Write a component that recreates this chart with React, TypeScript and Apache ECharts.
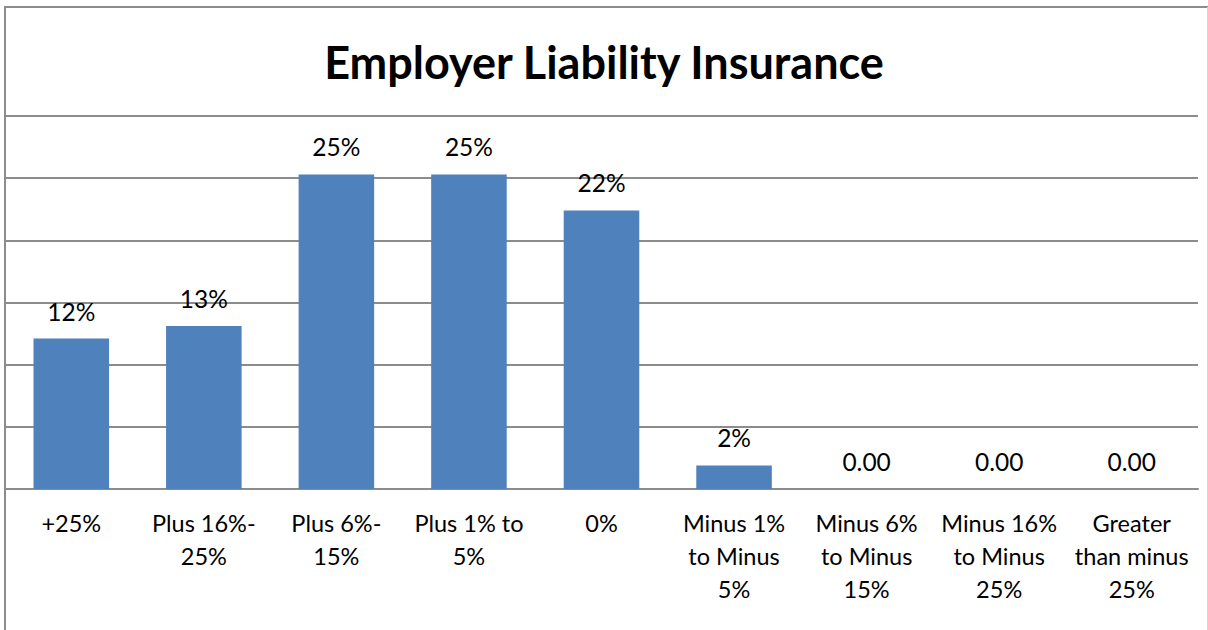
import React, { useEffect, useRef } from "react";
import * as echarts from "echarts";

const titleText = "Employer Liability Insurance";
const categories = [
  "+25%",
  "Plus 16%-\n25%",
  "Plus 6%-\n15%",
  "Plus 1% to\n5%",
  "0%",
  "Minus 1%\nto Minus\n5%",
  "Minus 6%\nto Minus\n15%",
  "Minus 16%\nto Minus\n25%",
  "Greater\nthan minus\n25%",
];
const values = [12.1, 13.1, 25.3, 25.3, 22.4, 1.9, 0, 0, 0];
const yMin = 0;
const yMax = 30;
const yInterval = 5;

const FONT = "Lato, 'Open Sans', sans-serif";

export default function App() {
  const ref = useRef<HTMLDivElement>(null);
  useEffect(() => {
    if (!ref.current) return;
    const chart = echarts.init(ref.current, null, { renderer: "svg" });
    chart.setOption({
      animation: false,
      backgroundColor: "#ffffff",
      textStyle: { fontFamily: FONT },
      title: {
        text: titleText,
        left: "center",
        top: 30,
        textStyle: {
          fontFamily: FONT,
          fontWeight: "bold",
          fontSize: 45,
          lineHeight: 54,
          color: "#000000",
        },
      },
      grid: { left: 5, right: 10, top: 116, bottom: 141, containLabel: false },
      xAxis: {
        type: "category",
        data: categories,
        axisLine: { show: true, lineStyle: { color: "#8c8c8c", width: 2 } },
        axisTick: { show: false },
        axisLabel: {
          interval: 0,
          margin: 17,
          fontFamily: FONT,
          fontSize: 23.5,
          lineHeight: 33,
          color: "#000000",
        },
      },
      yAxis: {
        type: "value",
        min: yMin,
        max: yMax,
        interval: yInterval,
        axisLine: { show: false },
        axisTick: { show: false },
        axisLabel: { show: false },
        splitLine: { show: true, lineStyle: { color: "#8c8c8c", width: 2 } },
      },
      series: [
        {
          type: "bar",
          data: values,
          barCategoryGap: "43%",
          itemStyle: { color: "#4f81bd" },
          label: {
            show: true,
            position: "top",
            distance: 15,
            fontFamily: FONT,
            fontSize: 24.5,
            color: "#000000",
            formatter: (p: any) =>
              p.value === 0 ? "0.00" : Math.round(p.value) + "%",
          },
        },
      ],
      graphic: [
        {
          type: "line",
          shape: { x1: 5, y1: 7, x2: 5, y2: 640 },
          style: { stroke: "#8c8c8c", lineWidth: 2 },
          silent: true,
          z: 100,
        },
        {
          type: "line",
          shape: { x1: 4, y1: 7, x2: 1208, y2: 7 },
          style: { stroke: "#8c8c8c", lineWidth: 2 },
          silent: true,
          z: 100,
        },
        {
          type: "line",
          shape: { x1: 1207.5, y1: 7, x2: 1207.5, y2: 640 },
          style: { stroke: "#d4d4d4", lineWidth: 1 },
          silent: true,
          z: 100,
        },
      ],
    });
    return () => chart.dispose();
  }, []);
  return (
    <div
      ref={ref}
      style={{ position: "absolute", left: 0, top: 0, width: 1208, height: 630 }}
    />
  );
}
